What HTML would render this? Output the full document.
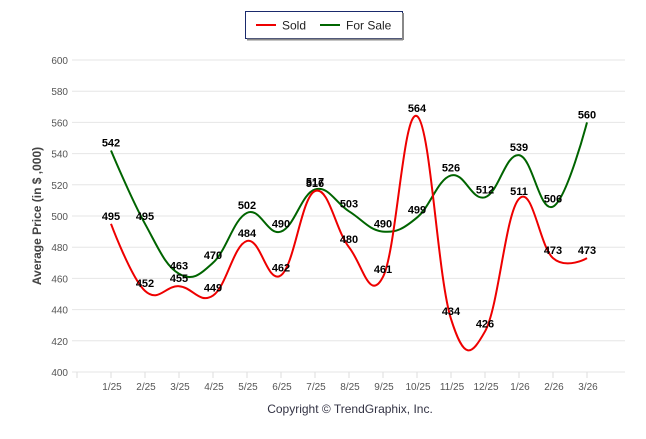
<!DOCTYPE html>
<html><head><meta charset="utf-8"><style>
body{margin:0;background:#fff;font-family:"Liberation Sans",sans-serif}
</style></head><body>
<svg width="646" height="434" xmlns="http://www.w3.org/2000/svg">
<g id="grid"></g><g id="series"></g><g id="labels"></g>
<g>
<rect x="245.5" y="11.5" width="157" height="27" fill="#fff" stroke="#1a2a6c" stroke-width="1"/>
<line x1="403" y1="13" x2="403" y2="40" stroke="#888" stroke-width="2"/>
<line x1="247" y1="39.5" x2="403" y2="39.5" stroke="#888" stroke-width="2"/>
<g><line x1="256" y1="25" x2="276" y2="25" stroke="#e00" stroke-width="2"/><text x="282" y="29.5" font-size="12" fill="#222">Sold</text></g>
<g><line x1="320" y1="25" x2="340" y2="25" stroke="#060" stroke-width="2"/><text x="346" y="29.5" font-size="12" fill="#222">For Sale</text></g>
</g>
<text transform="translate(41,216) rotate(-90)" text-anchor="middle" font-size="12" font-weight="bold" fill="#444">Average Price (in $ ,000)</text>
<text x="350" y="413" text-anchor="middle" font-size="12" fill="#334">Copyright © TrendGraphix, Inc.</text>
</svg>
<script>
const categories=["1/25","2/25","3/25","4/25","5/25","6/25","7/25","8/25","9/25","10/25","11/25","12/25","1/26","2/26","3/26"];
const soldValues=[495,452,455,449,484,462,516,480,461,564,434,426,511,473,473];
const forSaleValues=[542,495,463,470,502,490,517,503,490,499,526,512,539,506,560];
const yTicks=[400,420,440,460,480,500,520,540,560,580,600];
const NS="http://www.w3.org/2000/svg";
const xs=i=>111+34*i, ys=v=>372-(v-400)*312/200;
function mk(tag,attrs,parent){const e=document.createElementNS(NS,tag);for(const k in attrs)e.setAttribute(k,attrs[k]);parent.appendChild(e);return e;}
const grid=document.getElementById('grid'),ser=document.getElementById('series'),lab=document.getElementById('labels');
yTicks.forEach(t=>{
 const l=mk('line',{x1:72,x2:625,y1:ys(t),y2:ys(t),stroke:'#e6e6e6','stroke-width':1},grid);
 
 
 const tx=mk('text',{x:68,y:ys(t)+4,'text-anchor':'end','font-size':10,fill:'#555'},grid);tx.textContent=t;
 
 
});
mk('line',{x1:77,x2:77,y1:372,y2:378,stroke:'#ddd'},grid);
categories.forEach((c,i)=>{
 mk('line',{x1:xs(i),x2:xs(i),y1:372,y2:378,stroke:'#ddd'},grid);
 const t=mk('text',{x:xs(i)+1,y:390,'text-anchor':'middle','font-size':10,fill:'#555'},grid);t.textContent=c;
 
 
});
function spline(vals){
 const p=vals.map((v,i)=>[xs(i),ys(v)]);const s=1.5;let d='M'+p[0][0]+','+p[0][1];
 const cp=i=>{if(i===0||i===p.length-1)return null;const a=p[i-1],b=p[i],c=p[i+1];
  let lx=(s*b[0]+a[0])/(s+1),ly=(s*b[1]+a[1])/(s+1),rx=(s*b[0]+c[0])/(s+1),ry=(s*b[1]+c[1])/(s+1);
  const corr=(ry-ly)*(b[0]-lx)/(rx-lx)+ly-b[1];ly-=corr;ry-=corr;
  return [lx,ly,rx,ry];};
 for(let i=1;i<p.length;i++){const a=cp(i-1),b=cp(i);
  const c1=a?[a[2],a[3]]:p[i-1],c2=b?[b[0],b[1]]:p[i];
  d+=` C${c1[0]},${c1[1]} ${c2[0]},${c2[1]} ${p[i][0]},${p[i][1]}`;}
 return d;}
const fs=mk('path',{d:spline(forSaleValues),fill:'none',stroke:'#006400','stroke-width':2},ser);


const sd=mk('path',{d:spline(soldValues),fill:'none',stroke:'#ee0000','stroke-width':2},ser);


[[forSaleValues,'for-sale'],[soldValues,'sold']].forEach(([vals,n])=>vals.forEach((v,i)=>{
 const t=mk('text',{x:xs(i),y:ys(v)-4,'text-anchor':'middle','font-size':11,'font-weight':'bold',fill:'#000'},lab);t.textContent=v;
 
 
}));
</script>
</body></html>
